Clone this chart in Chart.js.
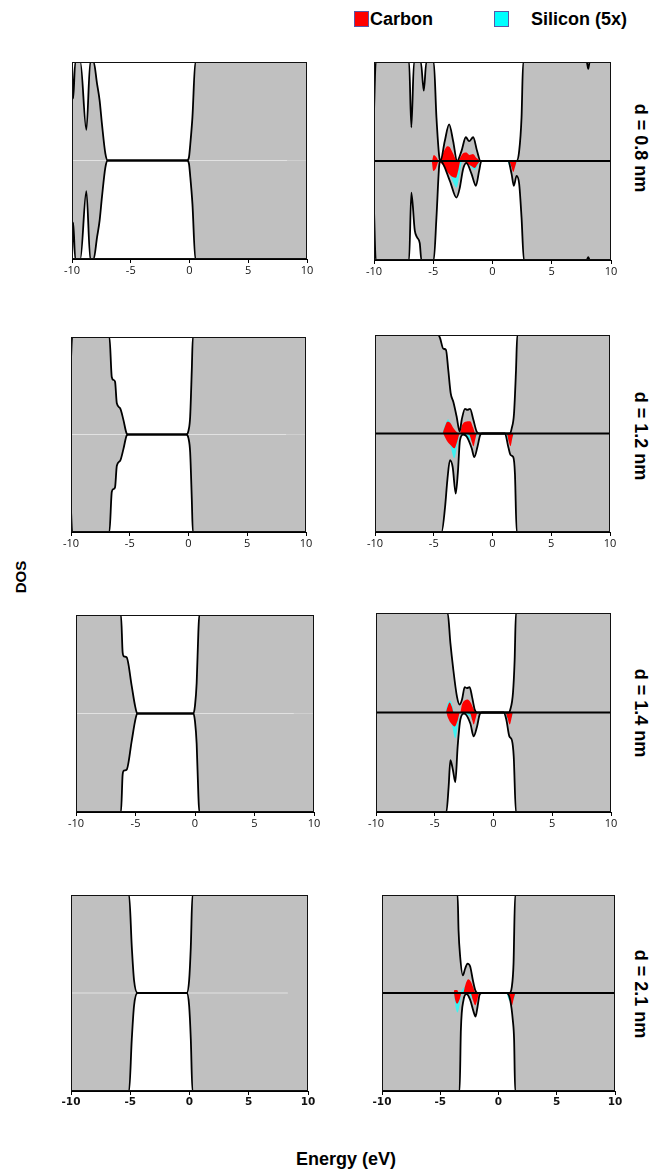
<!DOCTYPE html>
<html>
<head>
<meta charset="utf-8">
<script src="https://cdn.jsdelivr.net/npm/chart.js@4.4.1/dist/chart.umd.min.js"></script>
<style>
body { margin: 0; background: #fff; }
#fig { position: relative; width: 654px; height: 1171px; overflow: hidden; font-family: "Liberation Sans", Arial, sans-serif; }
#fig canvas { position: absolute; }
.lbl { position: absolute; font-weight: bold; color: #000; white-space: nowrap; line-height: 1; }
.rot { transform: translate(-50%, -50%) rotate(90deg); }
.key { position: absolute; width: 13px; height: 14px; border: 1px solid #5858a8; }
</style>
</head>
<body>
<div id="fig">
  <div class="key" style="left:354px;top:11px;background:#ff0000;"></div>
  <div class="lbl" style="left:370px;top:10px;font-size:18px;">Carbon</div>
  <div class="key" style="left:494px;top:11px;background:#00ffff;"></div>
  <div class="lbl" style="left:531px;top:10px;font-size:18px;">Silicon (5x)</div>

  <div class="lbl" style="left:20px;top:577px;font-size:15px;transform:translate(-50%,-50%) rotate(-90deg);">DOS</div>
  <div class="lbl" style="left:346px;top:1150px;font-size:18px;transform:translateX(-50%);">Energy (eV)</div>

  <div class="lbl rot" style="left:641px;top:148px;font-size:18px;">d = 0.8 nm</div>
  <div class="lbl rot" style="left:641px;top:436px;font-size:18px;">d = 1.2 nm</div>
  <div class="lbl rot" style="left:641px;top:713px;font-size:18px;">d = 1.4 nm</div>
  <div class="lbl rot" style="left:641px;top:994px;font-size:18px;">d = 2.1 nm</div>
</div>
<script>
// energy ticks shared by every panel
const energyTicks = [-10, -5, 0, 5, 10];

// ---- left column: total DOS, [energy, DOS] (1 = top of panel) ----
const tot08L = [[-10,1],[-9.9,0.63],[-9.72,1],[-9.29,1],[-8.78,0.31],[-8.44,1],[-8.16,1],[-7.87,0.78],[-7.65,0.61],[-7.45,0.37],[-7.16,0.07],[-6.96,0],[-0.21,0],[-0.05,0.03],[0.07,0.17],[0.25,0.44],[0.5,1],[10,1]];
const tot08LDn = [[-10,-1],[-9.9,-0.63],[-9.72,-1],[-9.29,-1],[-8.78,-0.31],[-8.44,-1],[-8.16,-1],[-7.87,-0.78],[-7.65,-0.61],[-7.45,-0.37],[-7.16,-0.07],[-6.96,0],[-0.21,0],[-0.05,-0.03],[0.07,-0.17],[0.25,-0.44],[0.5,-1],[10,-1]];
const tot12L = [[-10,0.78],[-9.9,1],[-6.73,1],[-6.53,0.59],[-6.39,0.56],[-6.25,0.54],[-6.1,0.32],[-5.82,0.27],[-5.54,0.15],[-5.26,0.01],[-5.11,0],[-0.2,0],[0,0.04],[0.14,0.18],[0.28,0.66],[0.37,1],[10,1]];
const tot12LDn = [[-10,-0.78],[-9.9,-1],[-6.73,-1],[-6.53,-0.59],[-6.39,-0.56],[-6.25,-0.54],[-6.1,-0.32],[-5.82,-0.27],[-5.54,-0.15],[-5.26,-0.01],[-5.11,0],[-0.2,0],[0,-0.04],[0.14,-0.18],[0.28,-0.66],[0.37,-1],[10,-1]];
const tot14L = [[-10,1],[-6.22,1],[-6.08,0.62],[-5.97,0.58],[-5.74,0.57],[-5.32,0.28],[-5.04,0.08],[-4.85,0],[-0.14,0],[0,0.08],[0.14,0.31],[0.28,0.82],[0.36,1],[10,1]];
const tot14LDn = [[-10,-1],[-6.22,-1],[-6.08,-0.62],[-5.97,-0.58],[-5.74,-0.57],[-5.32,-0.28],[-5.04,-0.08],[-4.85,0],[-0.14,0],[0,-0.08],[0.14,-0.31],[0.28,-0.82],[0.36,-1],[10,-1]];
const tot21L = [[-10,1],[-5.1,1],[-4.87,0.47],[-4.68,0.13],[-4.39,0],[-0.23,0],[-0.03,0.13],[0.11,0.47],[0.25,1],[10,1]];
const tot21LDn = [[-10,-1],[-5.1,-1],[-4.87,-0.47],[-4.68,-0.13],[-4.39,0],[-0.23,0],[-0.03,-0.13],[0.11,-0.47],[0.25,-1],[10,-1]];
const faintZero = [[-10,0],[8.3,0]];

// ---- right column: total, carbon and silicon DOS ----
const tot08 = [[-10,0.5],[-9.85,1],[-7.04,1],[-6.85,0.34],[-6.62,1],[-6.05,1],[-5.8,0.71],[-5.58,1],[-4.96,1],[-4.73,0.44],[-4.5,0.05],[-4.39,0],[-4.03,0.2],[-3.66,0.37],[-3.32,0.2],[-2.99,0],[-2.62,0.1],[-2.25,0.24],[-1.97,0.2],[-1.63,0.24],[-1.3,0.1],[-1.01,0],[2.03,0],[2.25,0.1],[2.45,0.44],[2.59,1],[7.95,1],[8.08,0.93],[8.2,1],[10,1]];
const tot08Dn = [[-10,-0.5],[-9.85,-1],[-7.04,-1],[-6.85,-0.32],[-6.56,-0.7],[-6.37,-0.77],[-6.14,-0.83],[-6.0,-1],[-4.96,-1],[-4.73,-0.57],[-4.5,-0.05],[-4.39,0],[-3.6,-0.2],[-3.04,-0.37],[-2.76,-0.27],[-2.48,-0.08],[-2.2,-0.02],[-1.77,-0.13],[-1.4,-0.25],[-1.13,-0.1],[-0.93,0],[1.32,0],[1.61,-0.13],[1.8,-0.25],[2.03,-0.15],[2.25,-0.23],[2.45,-0.57],[2.65,-1],[7.95,-1],[8.08,-0.97],[8.2,-1],[10,-1]];
const c08 = [[-5.1,0],[-4.95,0.06],[-4.75,0.04],[-4.5,0],[-4.3,0.04],[-4.05,0.11],[-3.8,0.15],[-3.6,0.14],[-3.35,0.08],[-3.1,0.02],[-2.95,0],[-2.75,0.03],[-2.45,0.08],[-2.2,0.085],[-1.95,0.06],[-1.65,0.07],[-1.35,0.03],[-1.0,0]];
const c08Dn = [[-5.12,0],[-5.0,-0.1],[-4.8,-0.08],[-4.55,-0.01],[-4.2,-0.04],[-3.8,-0.11],[-3.4,-0.16],[-3.1,-0.17],[-2.9,-0.1],[-2.7,0],[-2.2,-0.02],[-1.8,-0.05],[-1.5,-0.07],[-1.25,-0.03],[-1.0,0],[1.4,0],[1.6,-0.06],[1.75,-0.11],[1.9,-0.06],[2.05,0]];
const si08 = [[-4.4,0],[-3.7,0.1],[-3.0,0],[-2.3,0.04],[-1.6,0.04],[-1.0,0]];
const si08Dn = [[-4.3,0],[-3.7,-0.1],[-3.3,-0.22],[-3.04,-0.27],[-2.8,-0.15],[-2.55,0],[-1.9,-0.05],[-1.5,-0.09],[-1.25,-0.05],[-1.05,0],[1.25,0],[1.45,-0.06],[1.8,-0.07],[2.1,0]];

const tot12 = [[-10,1],[-4.61,1],[-4.47,0.97],[-4.18,0.86],[-3.96,0.85],[-3.76,0.64],[-3.56,0.41],[-3.33,0.32],[-3.05,0.17],[-2.8,0.02],[-2.62,0.14],[-2.34,0.25],[-2.14,0.24],[-1.91,0.25],[-1.63,0.14],[-1.35,0.02],[-1.12,0],[1.49,0],[1.63,0.05],[1.83,0.2],[2.0,0.64],[2.11,1],[10,1]];
const tot12Dn = [[-10,-1],[-4.33,-1],[-4.04,-0.75],[-3.84,-0.47],[-3.62,-0.27],[-3.39,-0.34],[-3.13,-0.61],[-2.95,-0.4],[-2.77,-0.07],[-2.5,-0.01],[-2.2,-0.03],[-1.77,-0.15],[-1.55,-0.24],[-1.29,-0.14],[-1.06,-0.02],[-0.9,0],[1.06,0],[1.35,-0.14],[1.55,-0.22],[1.77,-0.24],[1.91,-0.41],[2.06,-1],[10,-1]];
const c12 = [[-4.25,0],[-4.05,0.07],[-3.85,0.12],[-3.6,0.11],[-3.3,0.05],[-3.0,0.01],[-2.77,0],[-2.6,0.08],[-2.3,0.12],[-1.9,0.125],[-1.65,0.06],[-1.49,0]];
const c12Dn = [[-4.2,0],[-3.9,-0.07],[-3.55,-0.12],[-3.25,-0.15],[-3.0,-0.08],[-2.77,0],[-2.0,-0.01],[-1.75,-0.09],[-1.63,-0.13],[-1.45,-0.05],[-1.3,0],[1.2,0],[1.4,-0.09],[1.52,-0.13],[1.7,-0.04],[1.8,0]];
const si12 = [[-4.3,0],[-4.0,0.1],[-3.78,0.145],[-3.55,0.1],[-3.3,0]];
const si12Dn = [[-4.0,0],[-3.6,-0.12],[-3.25,-0.25],[-3.0,-0.12],[-2.77,0],[-2.3,-0.02],[-1.8,-0.07],[-1.4,-0.04],[-1.2,0],[1.06,0],[1.3,-0.07],[1.6,-0.07],[1.85,0]];

const tot14 = [[-10,1],[-3.9,1],[-3.67,0.7],[-3.45,0.46],[-3.11,0.16],[-2.88,0.08],[-2.68,0.13],[-2.45,0.255],[-2.26,0.245],[-2.03,0.255],[-1.83,0.16],[-1.6,0.03],[-1.4,0],[1.29,0],[1.43,0.03],[1.66,0.2],[1.8,0.53],[1.91,1],[10,1]];
const tot14Dn = [[-10,-1],[-4.01,-1],[-3.82,-0.75],[-3.67,-0.48],[-3.45,-0.58],[-3.25,-0.7],[-3.05,-0.34],[-2.82,-0.07],[-2.5,-0.01],[-1.97,-0.11],[-1.69,-0.24],[-1.4,-0.14],[-1.18,-0.02],[-1.0,0],[0.87,0],[1.09,-0.07],[1.35,-0.24],[1.57,-0.28],[1.72,-0.44],[1.91,-1],[10,-1]];
const c14 = [[-4.05,0],[-3.9,0.06],[-3.73,0.1],[-3.55,0.06],[-3.38,0],[-2.85,0],[-2.68,0.08],[-2.45,0.12],[-2.2,0.13],[-1.95,0.1],[-1.75,0.05],[-1.55,0]];
const c14Dn = [[-4.02,0],[-3.85,-0.06],[-3.6,-0.11],[-3.3,-0.14],[-3.05,-0.08],[-2.85,0],[-2.0,-0.01],[-1.8,-0.08],[-1.69,-0.12],[-1.5,-0.05],[-1.35,0],[1.0,0],[1.2,-0.06],[1.38,-0.12],[1.55,-0.05],[1.65,0]];
const si14 = [[-4.1,0],[-3.9,0.09],[-3.7,0.12],[-3.5,0.07],[-3.35,0]];
const si14Dn = [[-3.9,0],[-3.55,-0.12],[-3.25,-0.26],[-3.0,-0.1],[-2.85,0],[-2.1,-0.03],[-1.69,-0.08],[-1.35,0],[0.85,0],[1.1,-0.07],[1.5,-0.06],[1.7,0]];

const tot21 = [[-10,1],[-3.51,1],[-3.43,0.64],[-3.29,0.37],[-3.06,0.18],[-2.86,0.25],[-2.66,0.3],[-2.43,0.27],[-2.2,0.13],[-2.0,0.03],[-1.8,0],[0.94,0],[1.14,0.06],[1.29,0.3],[1.43,1],[10,1]];
const tot21Dn = [[-10,-1],[-3.34,-1],[-3.23,-0.38],[-3.0,-0.07],[-2.75,-0.01],[-2.43,-0.07],[-2.14,-0.19],[-1.97,-0.24],[-1.8,-0.14],[-1.63,-0.02],[-1.45,0],[0.71,0],[1.0,-0.07],[1.23,-0.28],[1.34,-0.48],[1.43,-1],[10,-1]];
const c21 = [[-3.85,0],[-3.78,0.03],[-3.55,0.03],[-3.4,0],[-3.05,0],[-2.85,0.08],[-2.6,0.14],[-2.35,0.11],[-2.15,0.05],[-2.0,0]];
const c21Dn = [[-3.82,0],[-3.72,-0.07],[-3.55,-0.11],[-3.35,-0.07],[-3.15,0],[-2.4,0],[-2.2,-0.07],[-2.0,-0.125],[-1.8,-0.06],[-1.65,0],[0.85,0],[1.0,-0.06],[1.14,-0.13],[1.3,-0.06],[1.45,0]];
const si21 = [[-3.3,0],[-2.86,0.06],[-2.3,0.06],[-2.0,0]];
const si21Dn = [[-3.82,0],[-3.7,-0.13],[-3.52,-0.2],[-3.3,-0.1],[-3.15,0],[-2.6,0],[-2.3,-0.06],[-2.0,-0.08],[-1.6,0],[0.65,0],[0.95,-0.08],[1.3,-0.07],[1.5,0]];
const zeroLine = [[-10,0],[10,0]];

Chart.defaults.animation = false;

let frame = {
    id: 'frame',
    afterDatasetsDraw(chart) {
        let a = chart.chartArea, ctx = chart.ctx;
        ctx.save();
        ctx.strokeStyle = '#111';
        ctx.lineWidth = 1;
        ctx.strokeRect(a.left + 0.5, a.top + 0.5, a.width - 1, a.height - 1);
        ctx.restore();
    }
};

let total = d => ({data: d, fill: 'origin', backgroundColor: '#c0c0c0', borderColor: '#000', borderWidth: 1.8, order: 3});
let carbon = d => ({data: d, fill: 'origin', backgroundColor: '#ff0000', borderColor: 'rgba(0,0,0,0)', borderWidth: 1, order: 1});
let silicon = d => ({data: d, fill: 'origin', backgroundColor: '#3ef2f2', borderColor: 'rgba(0,0,0,0)', borderWidth: 1, order: 2});
let axisLine = d => ({data: d, fill: false, borderColor: '#000', borderWidth: 1.8, order: 0});
let seam = d => ({data: d, fill: false, borderColor: '#e2e2e2', borderWidth: 1, order: 5});

// plot boxes: [left, top, right, bottom] in page pixels
let panels = [
    {box: [72, 62, 307, 259], sets: [total(tot08L), total(tot08LDn), seam(faintZero)]},
    {box: [374, 62, 611, 260], sets: [total(tot08), total(tot08Dn), carbon(c08), carbon(c08Dn), silicon(si08), silicon(si08Dn), axisLine(zeroLine)]},
    {box: [71, 337, 306, 532], sets: [total(tot12L), total(tot12LDn), seam(faintZero)]},
    {box: [375, 335, 610, 532], sets: [total(tot12), total(tot12Dn), carbon(c12), carbon(c12Dn), silicon(si12), silicon(si12Dn), axisLine(zeroLine)]},
    {box: [76, 615, 314, 812], sets: [total(tot14L), total(tot14LDn), seam(faintZero)]},
    {box: [376, 613, 611, 812], sets: [total(tot14), total(tot14Dn), carbon(c14), carbon(c14Dn), silicon(si14), silicon(si14Dn), axisLine(zeroLine)]},
    {box: [71, 895, 308, 1091], sets: [total(tot21L), total(tot21LDn), seam(faintZero)], bold: true},
    {box: [382, 895, 615, 1091], sets: [total(tot21), total(tot21Dn), carbon(c21), carbon(c21Dn), silicon(si21), silicon(si21Dn), axisLine(zeroLine)], bold: true}
];

let fig = document.getElementById('fig');
const PAD = 16, TOP = 3, AXIS = 22;

panels.forEach(p => {
    let [l, t, r, b] = p.box;
    let cv = document.createElement('canvas');
    let w = r - l + 2 * PAD, h = b - t + TOP + AXIS;
    cv.width = w; cv.height = h;
    cv.style.left = (l - PAD) + 'px';
    cv.style.top = (t - TOP) + 'px';
    cv.style.width = w + 'px';
    cv.style.height = h + 'px';
    fig.appendChild(cv);

    p.sets.forEach(s => { s.pointRadius = 0; s.cubicInterpolationMode = 'monotone'; s.clip = 0; });

    new Chart(cv.getContext('2d'), {
        type: 'line',
        data: {datasets: p.sets},
        options: {
            responsive: false,
            devicePixelRatio: 1,
            layout: {padding: {left: PAD, right: PAD, top: TOP, bottom: 0}},
            plugins: {legend: {display: false}, tooltip: {enabled: false}, filler: {drawTime: 'beforeDatasetsDraw'}},
            scales: {
                x: {
                    type: 'linear', min: -10, max: 10,
                    afterFit: s => { s.height = AXIS; },
                    afterBuildTicks: s => { s.ticks = energyTicks.map(v => ({value: v})); },
                    grid: {display: true, drawOnChartArea: false, drawTicks: true, tickLength: 4, color: '#000'},
                    border: {display: true, color: '#000'},
                    ticks: {
                        maxRotation: 0, autoSkip: false, padding: 1, color: '#111',
                        font: p.bold ? {family: 'DejaVu Sans', size: 10.5, weight: 'bold'} : {family: 'Open Sans', size: 11}
                    }
                },
                y: {type: 'linear', min: -1, max: 1, display: false}
            }
        },
        plugins: [frame]
    });
});
</script>
</body>
</html>
